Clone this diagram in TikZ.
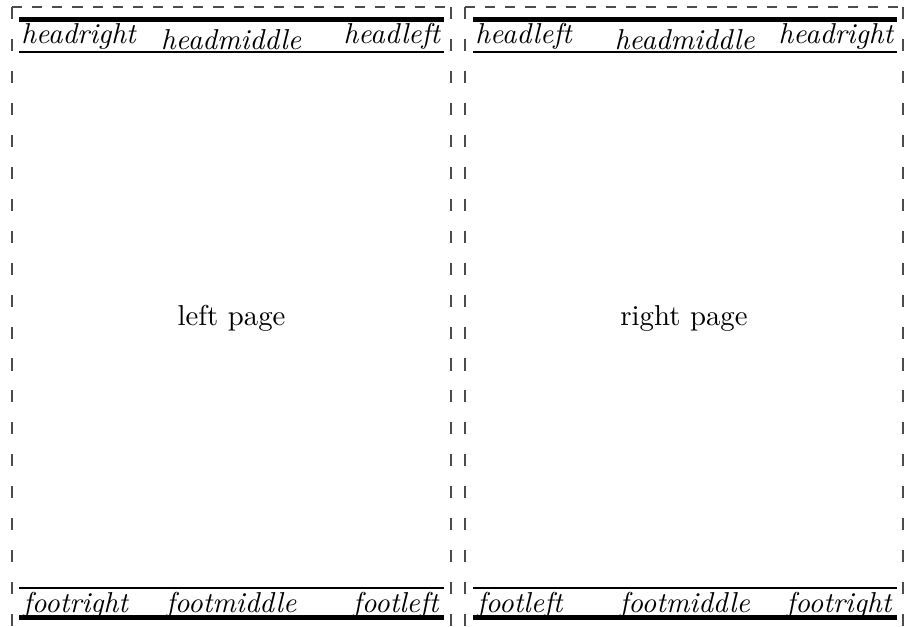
\documentclass[tikz,border=0pt]{standalone}
\usetikzlibrary{calc}
\usepackage{tkz-euclide}

\tikzset{
  hdtext/.style={inner sep=.8pt,outer sep=0pt},
  fttext/.style={inner sep=1.4pt,outer sep=0pt},
  framehor/.style={line width=.4pt,color=black!70,dash pattern=on 3.5pt off 3.5pt},
  framever/.style={line width=.4pt,color=black!70,dash pattern=on 4.2pt off 6.9pt},
  thickrule/.style={line width=1.75pt,line cap=butt},
  thinrule/.style={line width=.45pt,line cap=butt},
}

\begin{document}
\begin{tikzpicture}[scale=.1221]
\useasboundingbox (0,0) rectangle (90.6,62.6);

% page frames
\tkzDefPoints{1.2/61.9/LA,45.1/61.9/LB,45.1/-0.3/LC,1.2/-0.3/LD}
\tkzDefPoints{46.5/61.9/RA,90.3/61.9/RB,90.3/-0.3/RC,46.5/-0.3/RD}

% rules
\tkzDefPoints{1.9/60.65/Lh1,44.35/60.65/Lh2,1.9/57.4/Lt1,44.35/57.4/Lt2}
\tkzDefPoints{1.9/3.8/Lf1,44.35/3.8/Lf2,1.9/0.85/Lg1,44.35/0.85/Lg2}
\tkzDefPoints{47.3/60.65/Rh1,89.65/60.65/Rh2,47.3/57.4/Rt1,89.65/57.4/Rt2}
\tkzDefPoints{47.3/3.8/Rf1,89.65/3.8/Rf2,47.3/0.85/Rg1,89.65/0.85/Rg2}

\draw[framehor] (LA) -- (LB) (RA) -- (RB);
\draw[framever] (LA) -- (LD) (LB) -- (LC) (RA) -- (RD) (RB) -- (RC);

\draw[thickrule] (Lh1) -- (Lh2) (Rh1) -- (Rh2) (Lg1) -- (Lg2) (Rg1) -- (Rg2);
\draw[thinrule] (Lt1) -- (Lt2) (Rt1) -- (Rt2) (Lf1) -- (Lf2) (Rf1) -- (Rf2);

% heads and feet
\node (hrL) [hdtext,anchor=south west] at (Lt1) {\textit{headright}};
\node (hmL) [hdtext,anchor=south] at ($(Lt1)!.5!(Lt2)$) {\textit{headmiddle}};
\node (hlL) [hdtext,anchor=south east] at (Lt2) {\textit{headleft}};
\node (frL) [fttext,anchor=north west] at (Lf1) {\textit{footright}};
\node (fmL) [fttext,anchor=north] at ($(Lf1)!.5!(Lf2)$) {\textit{footmiddle}};
\node (flL) [fttext,anchor=north east] at (Lf2) {\textit{footleft}};

\node (hlR) [hdtext,anchor=south west] at (Rt1) {\textit{headleft}};
\node (hmR) [hdtext,anchor=south] at ($(Rt1)!.5!(Rt2)$) {\textit{headmiddle}};
\node (hrR) [hdtext,anchor=south east] at (Rt2) {\textit{headright}};
\node (flR) [fttext,anchor=north west] at (Rf1) {\textit{footleft}};
\node (fmR) [fttext,anchor=north] at ($(Rf1)!.5!(Rf2)$) {\textit{footmiddle}};
\node (frR) [fttext,anchor=north east] at (Rf2) {\textit{footright}};

\tkzDefMidPoint(LA,LC) \tkzGetPoint{Lm}
\tkzDefMidPoint(RA,RC) \tkzGetPoint{Rm}
\node (lpage) at (Lm) {left page};
\node (rpage) at (Rm) {right page};

\end{tikzpicture}
\end{document}
